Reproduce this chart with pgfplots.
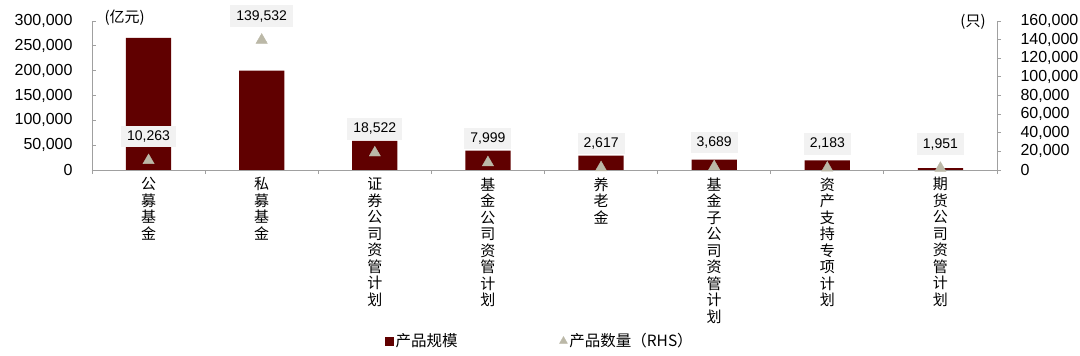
\documentclass[border=0pt]{standalone}
\usepackage{pgfplots}
\pgfplotsset{compat=1.18}
\usepackage{fontspec}
\setmainfont{Liberation Sans}
\newfontfamily\cjk{Noto Sans CJK SC}
\definecolor{barred}{RGB}{96,0,0}
\definecolor{tri}{RGB}{187,184,167}
\definecolor{axgray}{RGB}{160,160,160}
\definecolor{lblbg}{RGB}{242,242,242}
\begin{document}
\begin{tikzpicture}
\pgfplotsset{
  every axis/.append style={
    scale only axis, width=905pt, height=149pt, at={(0,0)}, anchor=south west,
    xmin=-0.5, xmax=7.5, clip=false,
    axis line style={axgray, line width=0.8pt},
    tick style={axgray, line width=0.8pt},
    major tick length=4pt,
    tick label style={font=\fontsize{16}{18}\selectfont},
    scaled y ticks=false,
    /pgf/number format/fixed,
    /pgf/number format/precision=0,
    /pgf/number format/1000 sep={,},
    /pgf/number format/assume math mode=true,
  }
}
\path[use as bounding box] (-92pt,-186pt) rectangle (988pt,170pt);
\begin{axis}[
  ymin=0, ymax=300000, ytick={0,50000,...,300000},
  axis x line*=bottom, axis y line*=left,
  xtick=\empty,
  tick align=inside,
  ybar, bar width=0.4,
  yticklabel style={xshift=-16pt},
]
\addplot[fill=barred, draw=none] coordinates {
(0,266000) (1,200000) (2,58500) (3,39000) (4,28800) (5,20700) (6,19500) (7,4000)};
\node[font=\cjk\fontsize{15}{17}\selectfont] at (rel axis cs:0.036,1.023) {(亿元)};
\end{axis}
\begin{axis}[
  ymin=0, ymax=160000, ytick={0,20000,...,160000},
  axis y line*=right, axis x line*=bottom,
  tick align=outside,
  xtick={-0.5,0.5,...,7.5}, xticklabels={,,,,,,,,},
  extra x ticks={0,1,2,3,4,5,6,7},
  extra x tick labels={{公\\募\\基\\金},{私\\募\\基\\金},{证\\券\\公\\司\\资\\管\\计\\划},{基\\金\\公\\司\\资\\管\\计\\划},{养\\老\\金},{基\\金\\子\\公\\司\\资\\管\\计\\划},{资\\产\\支\\持\\专\\项\\计\\划},{期\\货\\公\\司\\资\\管\\计\\划}},
  extra x tick style={major tick length=0pt, xticklabel style={font=\cjk\fontsize{15}{16.5}\selectfont, align=center, anchor=north, yshift=-4pt}},
  yticklabel style={xshift=16pt},
  legend columns=2,
  legend style={at={(0.495,-1.148)}, anchor=center, draw=none, font=\cjk\fontsize{15.5}{17}\selectfont, /tikz/every even column/.append style={column sep=100pt}},
]
\addlegendimage{legend image code/.code={\fill[barred] (0pt,-4pt) rectangle (8pt,4pt);}}
\addlegendimage{only marks, mark=triangle*, mark size=4.5pt, color=tri}
\addplot[forget plot, only marks, mark=triangle*, mark size=6.5pt, color=tri,
  point meta=y, nodes near coords,
  nodes near coords style={font=\fontsize{14}{16}\selectfont, fill=lblbg, text=black, inner xsep=6pt, inner ysep=5pt, anchor=south, yshift=13pt}]
coordinates {(0,10263) (1,139532) (2,18522) (3,7999) (4,2617) (5,3689) (6,2183) (7,1951)};
\legend{产品规模,产品数量（RHS）}
\node[font=\cjk\fontsize{15}{17}\selectfont] at (rel axis cs:0.9735,0.995) {(只)};
\end{axis}
\end{tikzpicture}
\end{document}
